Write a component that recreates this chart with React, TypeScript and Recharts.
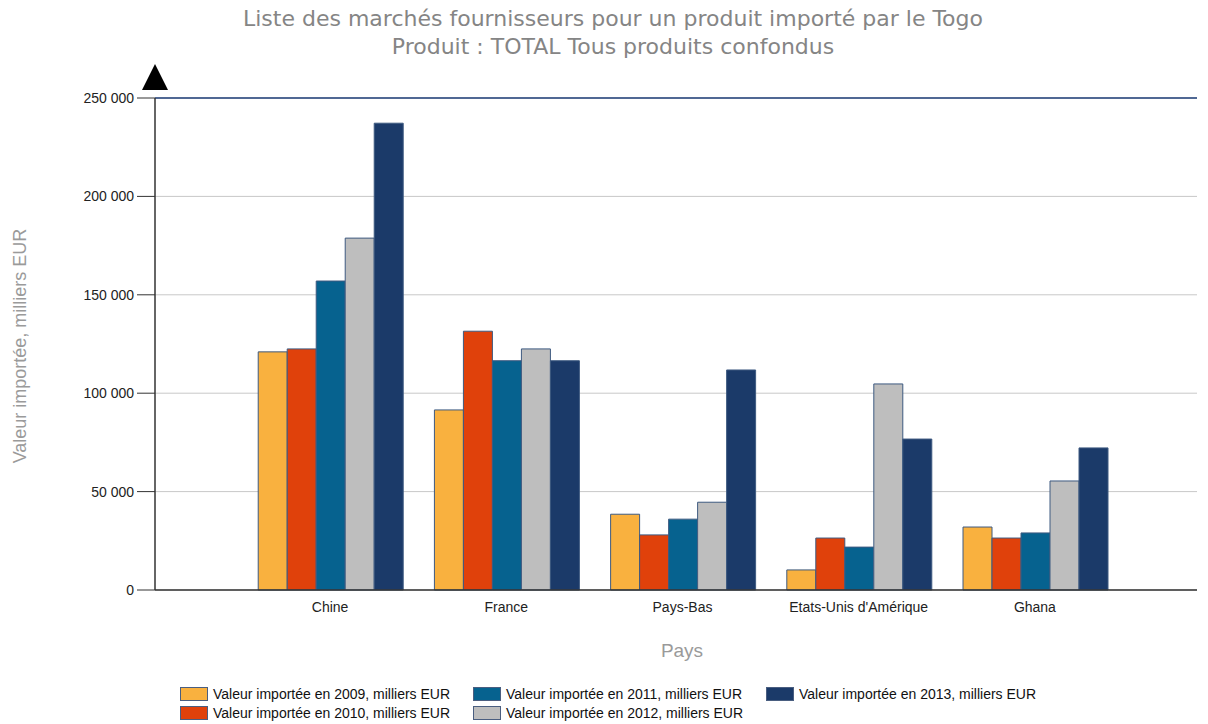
import React from "react";
import { BarChart, Bar, XAxis, YAxis, CartesianGrid, ReferenceLine } from "recharts";

const countries = ["Chine", "France", "Pays-Bas", "Etats-Unis d'Amérique", "Ghana"];
const v2009 = [121000, 91500, 38500, 10200, 32000];
const v2010 = [122500, 131500, 28000, 26400, 26400];
const v2011 = [157000, 116500, 36000, 21800, 29000];
const v2012 = [178800, 122500, 44600, 104700, 55400];
const v2013 = [237200, 116500, 111800, 76700, 72200];
const yTicks = [0, 50000, 100000, 150000, 200000, 250000];

const series = [
  { key: "y2009", label: "Valeur importée en 2009, milliers EUR", color: "#F9B13F", values: v2009 },
  { key: "y2010", label: "Valeur importée en 2010, milliers EUR", color: "#E0410B", values: v2010 },
  { key: "y2011", label: "Valeur importée en 2011, milliers EUR", color: "#06628F", values: v2011 },
  { key: "y2012", label: "Valeur importée en 2012, milliers EUR", color: "#BEBEBE", values: v2012 },
  { key: "y2013", label: "Valeur importée en 2013, milliers EUR", color: "#1B3A69", values: v2013 },
];

const data = countries.map((c, i) => {
  const row: any = { country: c };
  series.forEach((s) => (row[s.key] = s.values[i]));
  return row;
});

const fmt = (v: number) => (v === 0 ? "0" : `${Math.round(v / 1000)} 000`);
const sans = "'Liberation Sans', Arial, sans-serif";

export default function App() {
  const legendCols = [
    [series[0], series[1]],
    [series[2], series[3]],
    [series[4]],
  ];
  const colX = [180, 473, 766];
  return (
    <div style={{ position: "absolute", left: 0, top: 0, width: 1208, height: 724, background: "#fff", fontFamily: sans }}>
      <div style={{ position: "absolute", left: 0, top: 5, width: 1226, textAlign: "center", color: "#858585", fontFamily: "'DejaVu Sans', sans-serif", fontSize: 22, lineHeight: "28px" }}>
        Liste des marchés fournisseurs pour un produit importé par le Togo
        <br />
        Produit : TOTAL Tous produits confondus
      </div>
      <div style={{ position: "absolute", left: 0, top: 0 }}>
        <BarChart
          width={1208}
          height={724}
          data={data}
          margin={{ top: 98, left: 95, right: 11, bottom: 104 }}
          barCategoryGap="9.2%"
          barGap={0}
        >
          <CartesianGrid horizontal vertical={false} stroke="#c8c8c8" strokeWidth={1} />
          <XAxis
            dataKey="country"
            type="category"
            padding={{ left: 87, right: 74 }}
            tickLine={false}
            axisLine={{ stroke: "#333", strokeWidth: 1.5 }}
            tick={{ fill: "#222", fontSize: 14, fontFamily: sans }}
            tickMargin={6}
            height={30}
            interval={0}
          />
          <YAxis
            type="number"
            domain={[0, 250000]}
            ticks={yTicks}
            tickFormatter={fmt}
            width={60}
            tickSize={18}
            tickMargin={3}
            tickLine={{ stroke: "#333" }}
            axisLine={{ stroke: "#333", strokeWidth: 1.5 }}
            tick={{ fill: "#222", fontSize: 14, fontFamily: sans }}
          />
          <ReferenceLine y={250000} stroke="#1F3F7A" strokeWidth={1.5} />
          {series.map((s) => (
            <Bar
              key={s.key}
              dataKey={s.key}
              name={s.label}
              fill={s.color}
              stroke="#3E5A80"
              strokeWidth={1}
              isAnimationActive={false}
            />
          ))}
        </BarChart>
      </div>
      <svg style={{ position: "absolute", left: 0, top: 0 }} width={1208} height={724}>
        <polygon points="142,90 168,90 155,64" fill="#000" />
        <text
          x={21}
          y={346}
          transform="rotate(-90 21 346)"
          textAnchor="middle"
          dominantBaseline="middle"
          fill="#9a9a9a"
          fontSize={18}
          fontFamily={sans}
        >
          Valeur importée, milliers EUR
        </text>
        <text x={682} y={652} textAnchor="middle" dominantBaseline="middle" fill="#9a9a9a" fontSize={19} fontFamily={sans}>
          Pays
        </text>
      </svg>
      {legendCols.map((col, ci) =>
        col.map((s, ri) => (
          <div
            key={s.key}
            style={{ position: "absolute", left: colX[ci], top: 686 + ri * 19, display: "flex", alignItems: "center", fontSize: 14, color: "#111", fontFamily: sans, whiteSpace: "nowrap", lineHeight: "16px" }}
          >
            <span style={{ display: "inline-block", width: 26, height: 12, background: s.color, border: "1px solid #4A5E80", marginRight: 5 }} />
            {s.label}
          </div>
        ))
      )}
    </div>
  );
}
